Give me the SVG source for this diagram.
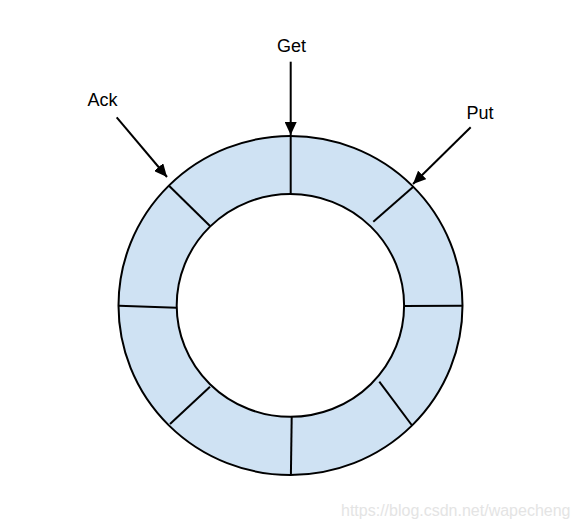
<svg xmlns="http://www.w3.org/2000/svg" width="576" height="529" viewBox="0 0 576 529">
  <style>
    .ring { fill: #cfe2f3; stroke: #000; stroke-width: 2; fill-rule: evenodd; }
    .hole { fill: #fff; stroke: #000; stroke-width: 2; }
    .div { stroke: #000; stroke-width: 2; fill: none; }
    .lbl { font-family: "Liberation Sans", Arial, sans-serif; font-size: 18px; fill: #000; }
    .conn { stroke: #000; stroke-width: 2; fill: none; marker-end: url(#ah); }
    .wm { font-family: "Liberation Sans", Arial, sans-serif; font-size: 16px; fill: #e4e4e4; }
  </style>
  <defs>
    <marker id="ah" markerWidth="14" markerHeight="12" refX="13" refY="6" orient="auto" markerUnits="userSpaceOnUse">
      <path d="M0,0 L13,6 L0,12 Z" fill="#000"/>
    </marker>
  </defs>
  <rect width="576" height="529" fill="#fff"/>
  <g id="ring">
    <ellipse class="ring" cx="290.5" cy="305.5" rx="172" ry="169.5"/>
    <ellipse class="hole" cx="290.4" cy="305.4" rx="113.7" ry="111.4"/>
    <line class="div" x1="290.7" y1="136" x2="290.7" y2="194"/>
    <line class="div" x1="169" y1="185.7" x2="210" y2="226"/>
    <line class="div" x1="413.3" y1="186.7" x2="373.3" y2="221.7"/>
    <line class="div" x1="119" y1="305.7" x2="176.5" y2="307.7"/>
    <line class="div" x1="404.2" y1="306" x2="462.7" y2="305.7"/>
    <line class="div" x1="210" y1="386.7" x2="170" y2="424"/>
    <line class="div" x1="379.3" y1="381.7" x2="411.7" y2="425"/>
    <line class="div" x1="291.7" y1="416.7" x2="290.9" y2="475"/>
  </g>
  <g id="get"><text class="lbl" x="291.5" y="51.5" text-anchor="middle">Get</text></g>
  <g id="ack"><text class="lbl" x="87.5" y="105.5">Ack</text></g>
  <g id="put"><text class="lbl" x="466.5" y="119">Put</text></g>
  <g id="connectors">
    <line class="conn" x1="290.7" y1="61.7" x2="290.7" y2="135"/>
    <line class="conn" x1="116.7" y1="117.3" x2="167" y2="177"/>
    <line class="conn" x1="470.7" y1="127.3" x2="413" y2="184"/>
  </g>
  <text class="wm" x="341" y="516">https://blog.csdn.net/wapecheng</text>
</svg>
